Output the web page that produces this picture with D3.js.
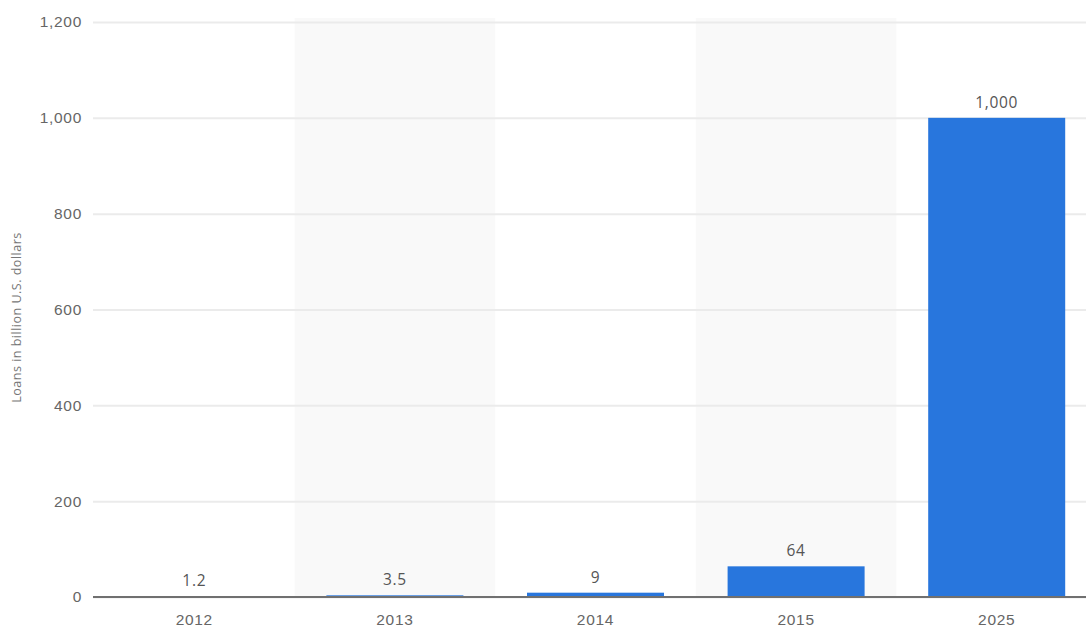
<!DOCTYPE html>
<html>
<head>
<meta charset="utf-8">
<script src="https://cdn.jsdelivr.net/npm/d3@7"></script>
<style>
  html, body { margin: 0; padding: 0; background: #fff; }
  svg { display: block; font-family: "Open Sans", "DejaVu Sans", sans-serif; }
</style>
</head>
<body>
<svg id="chart" width="1086" height="629"></svg>
<script>
// Loan volumes by year (billion U.S. dollars)
const years = ["2012", "2013", "2014", "2015", "2025"];
const loans = [1.2, 3.5, 9, 64, 1000];
const valueLabels = ["1.2", "3.5", "9", "64", "1,000"];
const yTicks = [0, 200, 400, 600, 800, 1000, 1200];
const yTitle = "Loans in billion U.S. dollars";

const svg = d3.select("#chart");
const W = 1086, H = 629;
const plotLeft = 93;

const x = d3.scaleBand()
  .domain(years)
  .range([94, 1097])
  .paddingInner(0).paddingOuter(0);

const y = d3.scaleLinear()
  .domain([0, 1200])
  .range([597, 22]);

// alternating column shading
svg.append("g").selectAll("rect")
  .data(years.filter((d, i) => i % 2 === 1))
  .join("rect")
  .attr("x", d => x(d))
  .attr("y", y(1200) - 4)
  .attr("width", x.bandwidth())
  .attr("height", y(0) - y(1200) + 4)
  .attr("fill", "#f9f9f9");

// horizontal gridlines and y tick labels
const yAxis = d3.axisLeft(y)
  .tickValues(yTicks)
  .tickSize(-(W - plotLeft))
  .tickFormat(d3.format(","));

const gy = svg.append("g")
  .attr("transform", `translate(${plotLeft},0)`)
  .call(yAxis);
gy.select(".domain").remove();
gy.selectAll(".tick line")
  .attr("stroke", "#ebebeb")
  .attr("stroke-width", 2)
  .attr("x1", 0);
gy.selectAll(".tick text")
  .attr("fill", "#666")
  .attr("font-size", 15.5)
  .attr("letter-spacing", 0.7)
  .attr("x", -11);

// bars
const bar = 137;
svg.append("g").selectAll("rect")
  .data(years)
  .join("rect")
  .attr("x", d => x(d) + (x.bandwidth() - bar) / 2)
  .attr("width", bar)
  .attr("y", (d, i) => y(loans[i]))
  .attr("height", (d, i) => y(0) - y(loans[i]))
  .attr("fill", "#2876dd");

// value labels
svg.append("g").selectAll("text")
  .data(years)
  .join("text")
  .attr("x", d => x(d) + x.bandwidth() / 2)
  .attr("y", (d, i) => y(loans[i]) - 10)
  .attr("text-anchor", "middle")
  .attr("fill", "#555")
  .attr("font-size", 15.5)
  .attr("letter-spacing", 0.7)
  .text((d, i) => valueLabels[i]);

// category axis
const xAxis = d3.axisBottom(x).tickSize(0).tickPadding(17);
const gx = svg.append("g")
  .attr("transform", `translate(0,${y(0)})`)
  .call(xAxis);
gx.select(".domain").remove();
gx.selectAll(".tick text")
  .attr("fill", "#666")
  .attr("font-size", 15.5)
  .attr("letter-spacing", 0.7);

// baseline
svg.append("line")
  .attr("x1", plotLeft).attr("x2", W)
  .attr("y1", y(0)).attr("y2", y(0))
  .attr("stroke", "#707070")
  .attr("stroke-width", 2);

// y axis title
svg.append("text")
  .attr("transform", `translate(21,${(y(0) + y(1200)) / 2 + 8}) rotate(-90)`)
  .attr("text-anchor", "middle")
  .attr("fill", "#777")
  .attr("font-size", 12.5)
  .attr("letter-spacing", 0.5)
  .text(yTitle);
</script>
</body>
</html>
